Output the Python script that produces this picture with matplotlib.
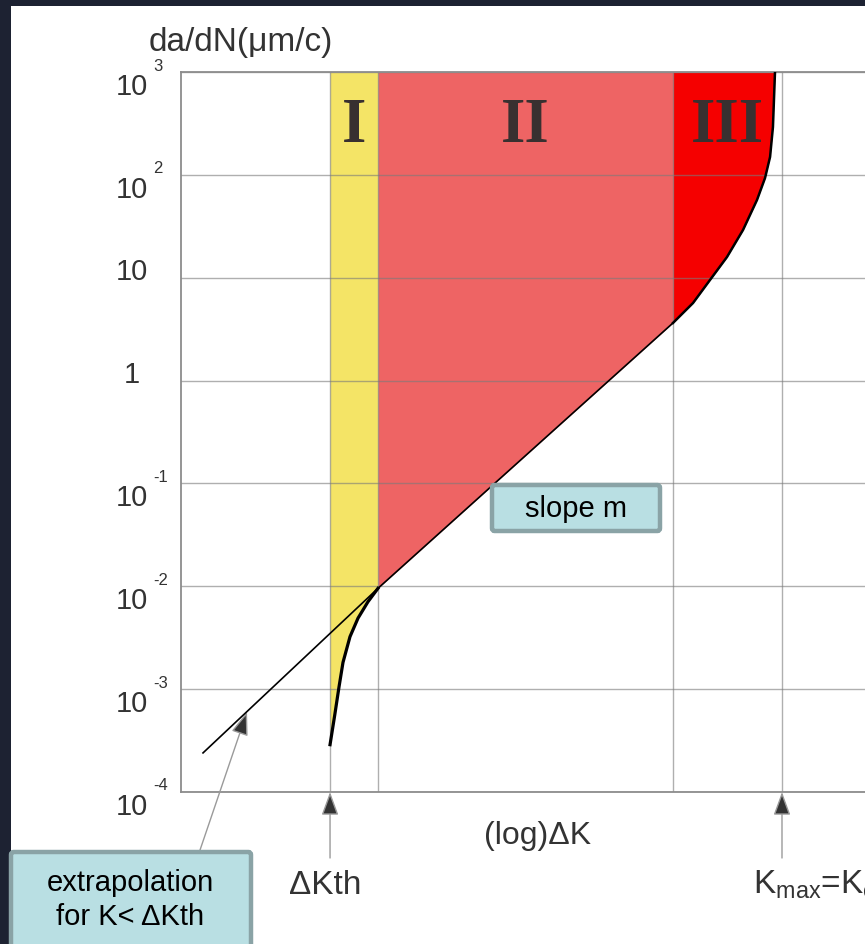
import numpy as np
import matplotlib
matplotlib.use('Agg')
import matplotlib.pyplot as plt
from matplotlib.patches import Rectangle, FancyBboxPatch

plt.rcParams['font.family'] = ['Liberation Sans', 'DejaVu Sans']
plt.rcParams['mathtext.fontset'] = 'custom'
plt.rcParams['mathtext.rm'] = 'Liberation Sans'
plt.rcParams['mathtext.it'] = 'Liberation Sans:italic'

# x is log(dK) in arbitrary units, y is da/dN in um/cycle
dk_th = 1.449          # threshold
dk_12 = 1.915          # end of stage I
dk_23 = 4.783          # start of stage III
dk_c = 5.843           # K_max = K_c

# Paris-law line (stage II plus its extrapolation below threshold)
paris_x = [0.214, 1.915, 4.783]
paris_y = [10**-3.62, 10**-2.02, 10**0.56]

# stage I: near-threshold curve
stage1_x = [1.449, 1.495, 1.536, 1.575, 1.643, 1.721, 1.818, 1.915]
stage1_y = [10**-3.54, 10**-3.25, 10**-2.98, 10**-2.74, 10**-2.49, 10**-2.31,
            10**-2.15, 10**-2.02]

# stage III: unstable growth towards K_c
stage3_x = [4.783, 4.978, 5.143, 5.308, 5.464, 5.600, 5.678, 5.727, 5.755, 5.775]
stage3_y = [10**0.56, 10**0.754, 10**0.978, 10**1.201, 10**1.464, 10**1.756,
            10**1.969, 10**2.174, 10**2.465, 10**3.0]

decades = [-4, -3, -2, -1, 0, 1, 2, 3]

W, H = 865, 944
fig = plt.figure(figsize=(W/100, H/100), dpi=100, facecolor='#1d2232')

def fx(x):
    return x/W

def fy(y):
    return 1 - y/H

# white sheet
fig.patches.append(Rectangle((fx(11), 0), 1, fy(6), transform=fig.transFigure,
                             fc='white', ec='none', zorder=-5))

ax = fig.add_axes([fx(181), fy(792), 720/W, 720/H])
ax.set_yscale('log')
ax.set_xlim(0, 7)
ax.set_ylim(1e-4, 1e3)
ax.set_facecolor('none')

ax.fill_between(stage1_x, stage1_y, 1e3, color='#f4e466', lw=0, zorder=1)
ax.fill_between(paris_x[1:], paris_y[1:], 1e3, color='#ee6464', lw=0, zorder=1)
ax.fill_between(stage3_x, stage3_y, 1e3, color='#f50000', lw=0, zorder=1)

ax.plot(paris_x, paris_y, color='black', lw=1.2, zorder=4)
ax.plot(stage1_x, stage1_y, color='black', lw=2.3, zorder=4,
        solid_joinstyle='round')
ax.plot(stage3_x, stage3_y, color='black', lw=1.8, zorder=4,
        solid_joinstyle='round')

ax.set_xticks([dk_th, dk_12, dk_23, dk_c])
ax.set_yticks([10.0**d for d in decades])
ax.minorticks_off()
ax.tick_params(length=0, labelleft=False, labelbottom=False)
ax.set_axisbelow('line')
ax.grid(True, color='#7a7a7a', alpha=0.6, lw=1)
for s in ['left', 'top', 'bottom']:
    ax.spines[s].set_color('#8c8c8c')
    ax.spines[s].set_linewidth(1.3)
ax.spines['right'].set_visible(False)

# y tick labels, written as 10 with a detached exponent
tcol = '#333333'
for d in decades:
    if d in (0, 1):
        ax.annotate('1' if d == 0 else '10', (0, 10.0**d),
                    xycoords=('axes fraction', 'data'), xytext=(-49, 6),
                    textcoords='offset pixels', ha='center', va='center',
                    fontsize=21, color=tcol, annotation_clip=False)
    else:
        ax.annotate('10', (0, 10.0**d), xycoords=('axes fraction', 'data'),
                    xytext=(-49, -15), textcoords='offset pixels', ha='center',
                    va='center', fontsize=21, color=tcol, annotation_clip=False)
        ax.annotate(str(d), (0, 10.0**d), xycoords=('axes fraction', 'data'),
                    xytext=(-28, 6), textcoords='offset pixels', ha='left',
                    va='center', fontsize=12, color=tcol, annotation_clip=False)

fig.text(fx(241), fy(43), 'da/dN(\u03bcm/c)', ha='center', va='center',
         fontsize=24, color=tcol)

# stage numerals
ncol = '#383030'
for label, x in [('I', (dk_th + dk_12)/2), ('II', (dk_12 + dk_23)/2),
                 ('III', (dk_23 + stage3_x[-1])/2 + 0.03)]:
    ax.text(x, 290, label, ha='center', va='center', fontsize=45,
            family='Liberation Serif', weight='bold', color=ncol, zorder=5)

# threshold and critical markers below the axis
arrow_kw = dict(arrowstyle='-|>,head_length=0.6,head_width=0.22', ec='#9a9a9a',
                fc='#333333', lw=1, mutation_scale=24, shrinkA=0, shrinkB=0)
for x in (dk_th, dk_c):
    ax.annotate('', xy=(x, 1e-4), xytext=(0, -66), textcoords='offset pixels',
                arrowprops=arrow_kw, annotation_clip=False)

fig.text(fx(325), fy(885), '\u0394Kth', ha='center', va='center',
         fontsize=24, color=tcol)
fig.text(fx(753), fy(885), r'K$_\mathrm{max}$=K$_\mathrm{c}$', ha='left',
         va='center', fontsize=24, color=tcol)
fig.text(fx(538), fy(836), '(log)\u0394K', ha='center', va='center',
         fontsize=23, color=tcol)

# callout boxes
box_fc = '#b9dfe3'
box_ec = '#8aa3a6'

def callout(x0, y0, x1, y1):
    fig.patches.append(FancyBboxPatch((fx(x0), fy(y1)), fx(x1 - x0), (y1 - y0)/H,
                                      boxstyle='round,pad=0,rounding_size=0.003',
                                      transform=fig.transFigure, fc=box_fc,
                                      ec=box_ec, lw=3.2, zorder=6))

callout(492, 485, 660, 531)
fig.text(fx(576), fy(509), 'slope m', ha='center', va='center', fontsize=21,
         color='black', zorder=7)

tip_x = 0.642
tip_y = 10**-3.222
ax.annotate('', xy=(tip_x, tip_y), xytext=(-47, -138), textcoords='offset pixels',
            arrowprops=arrow_kw, annotation_clip=False)

callout(11, 852, 251, 960)
fig.text(fx(130), fy(883), 'extrapolation', ha='center', va='center',
         fontsize=21, color='black', zorder=7)
fig.text(fx(130), fy(917), 'for K< \u0394Kth', ha='center', va='center',
         fontsize=21, color='black', zorder=7)

fig.savefig('out.png', dpi=100, facecolor=fig.get_facecolor())
